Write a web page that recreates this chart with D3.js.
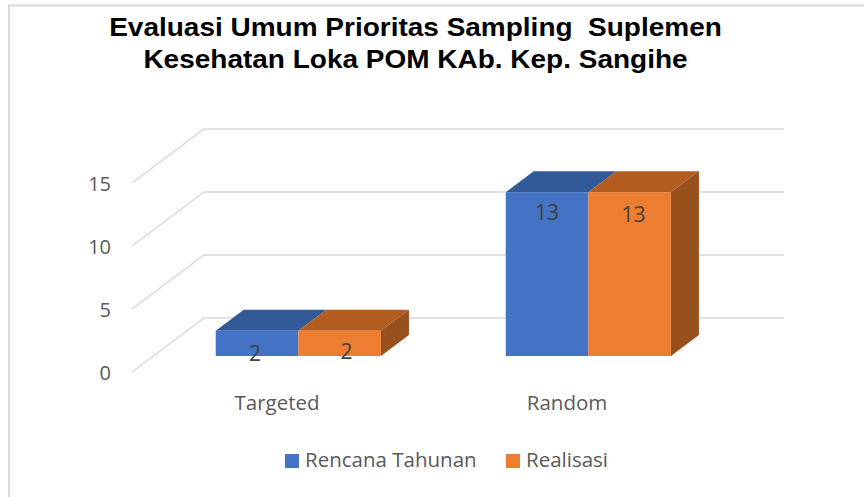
<!DOCTYPE html>
<html lang="en">
<head>
    <meta charset="UTF-8">
    <title>Evaluasi Umum Prioritas Sampling</title>
    <script src="https://d3js.org/d3.v7.min.js" charset="utf-8"></script>
    <style>
        html, body { margin: 0; padding: 0; background: #fff; }
        svg { display: block; }
        text { font-family: 'Open Sans', sans-serif; fill: #595959; }
        .title { font-family: 'Liberation Sans', Arial, sans-serif; font-weight: bold; fill: #000; }
    </style>
</head>
<body>
    <div id="chart"></div>
    <script>
        var categories = ['Targeted', 'Random'];
        var seriesNames = ['Rencana Tahunan', 'Realisasi'];
        var rencana = [2, 13];
        var realisasi = [2, 13];
        var yTicks = [0, 5, 10, 15];
        var titleLines = ['Evaluasi Umum Prioritas Sampling  Suplemen', 'Kesehatan Loka POM KAb. Kep. Sangihe'];

        var faceColors = ['#4472c4', '#ed7d31'];
        var topColors = ['#335a98', '#b45d20'];
        var sideColors = ['#2b4c82', '#98501c'];

        var width = 864, height = 497;
        var svg = d3.select('#chart').append('svg')
            .attr('width', width)
            .attr('height', height);

        // chart frame, only the left and top edges are inside the picture
        svg.append('path')
            .attr('d', 'M9,' + height + 'V5.5H' + width)
            .attr('fill', 'none')
            .attr('stroke', '#d9d9d9')
            .attr('stroke-width', 2);

        // scales for the front plane of the 3d box
        var x0 = d3.scaleBand().domain(categories).range([132, 712]);
        var x1 = d3.scaleBand().domain(seriesNames).range([-82.6, 82.6]);
        var y = d3.scaleLinear().domain([0, 15]).range([372, 183]);

        // depth goes from 0 (front) to 1 (back wall)
        var depthX = d3.scaleLinear().domain([0, 1]).range([0, 72]);
        var depthY = d3.scaleLinear().domain([0, 1]).range([0, -54]);
        var barFront = 0.296, barBack = 0.685;

        function project(px, value, depth) {
            return [px + depthX(depth), y(value) + depthY(depth)];
        }
        var poly = d3.line();

        // gridlines: side wall then back wall
        svg.append('g').selectAll('path')
            .data(yTicks)
            .enter().append('path')
            .attr('fill', 'none')
            .attr('stroke', '#d9d9d9')
            .attr('stroke-width', 1.5)
            .attr('d', function (d) {
                return poly([project(132, d, 0), project(132, d, 1), project(712, d, 1)]);
            });

        // y axis labels
        var yAxis = d3.axisLeft(y).tickValues(yTicks).tickSize(0).tickPadding(21);
        var yG = svg.append('g')
            .attr('transform', 'translate(132,0)')
            .call(yAxis);
        yG.select('.domain').remove();
        yG.selectAll('text')
            .attr('dy', '0.36em')
            .style('font-family', "'Open Sans', sans-serif")
            .style('font-size', '20px')
            .style('fill', '#595959');

        // x axis labels
        svg.append('g').selectAll('text')
            .data(categories)
            .enter().append('text')
            .attr('x', function (d) { return x0(d) + x0.bandwidth() / 2; })
            .attr('y', 410)
            .attr('text-anchor', 'middle')
            .style('font-size', '20.5px')
            .text(function (d) { return d; });

        // bars
        var values = [rencana, realisasi];
        categories.forEach(function (cat, c) {
            var center = x0(cat) + x0.bandwidth() / 2;
            seriesNames.forEach(function (name, s) {
                var v = values[s][c];
                var left = center + x1(name);
                var right = left + x1.bandwidth();
                var g = svg.append('g');

                g.append('path')
                    .attr('fill', topColors[s])
                    .attr('d', poly([project(left, v, barFront), project(right, v, barFront),
                        project(right, v, barBack), project(left, v, barBack)]) + 'Z');

                if (s === seriesNames.length - 1) {
                    g.append('path')
                        .attr('fill', sideColors[s])
                        .attr('d', poly([project(right, 0, barFront), project(right, v, barFront),
                            project(right, v, barBack), project(right, 0, barBack)]) + 'Z');
                }

                g.append('path')
                    .attr('fill', faceColors[s])
                    .attr('d', poly([project(left, 0, barFront), project(right, 0, barFront),
                        project(right, v, barFront), project(left, v, barFront)]) + 'Z');
            });
        });

        // value labels, nudged by hand like the original
        var labelShift = { Targeted: [[-2, 2], [7, 0]], Random: [[0, 0], [4, 2]] };
        categories.forEach(function (cat, c) {
            var center = x0(cat) + x0.bandwidth() / 2;
            seriesNames.forEach(function (name, s) {
                var v = values[s][c];
                var p = project(center + x1(name) + x1.bandwidth() / 2, v, barFront);
                svg.append('text')
                    .attr('x', p[0] + labelShift[cat][s][0])
                    .attr('y', p[1] + 28 + labelShift[cat][s][1])
                    .attr('text-anchor', 'middle')
                    .style('font-size', '21px')
                    .style('fill', '#404040')
                    .text(v);
            });
        });

        // title, a bit wider than the font's normal shape
        svg.append('g').selectAll('text')
            .data(titleLines)
            .enter().append('text')
            .attr('class', 'title')
            .attr('transform', function (d, i) { return 'translate(415.5,' + (36 + i * 32.3) + ') scale(1.077,1)'; })
            .attr('text-anchor', 'middle')
            .style('font-size', '26px')
            .style('white-space', 'pre')
            .text(function (d) { return d; });

        // legend
        var legendX = [285, 506];
        var legend = svg.append('g').selectAll('g')
            .data(seriesNames)
            .enter().append('g')
            .attr('transform', function (d, i) { return 'translate(' + legendX[i] + ',454)'; });
        legend.append('rect')
            .attr('width', 14).attr('height', 14)
            .attr('fill', function (d, i) { return faceColors[i]; });
        legend.append('text')
            .attr('x', 20).attr('y', 13)
            .style('font-size', '20.5px')
            .text(function (d) { return d; });
    </script>
</body>
</html>
